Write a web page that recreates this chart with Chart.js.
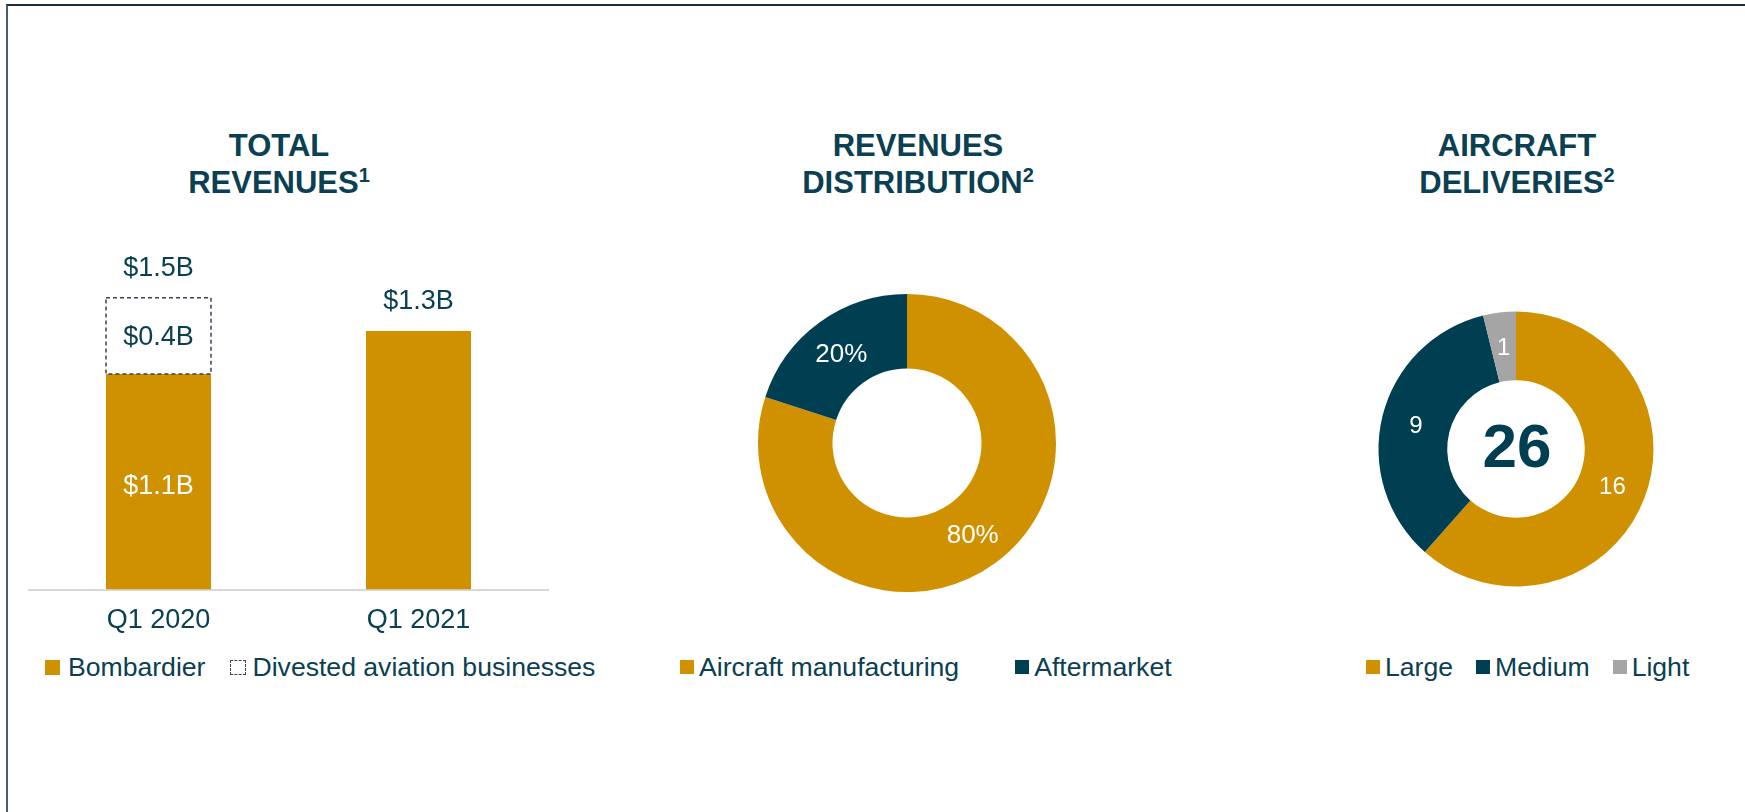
<!DOCTYPE html>
<html>
<head>
<meta charset="utf-8">
<script src="https://cdn.jsdelivr.net/npm/chart.js@4.4.1/dist/chart.umd.min.js"></script>
<style>
body { margin: 0; background: #fff; font-family: "Liberation Sans", Arial, sans-serif; color: #0a4051; }
#page { position: relative; width: 1745px; height: 812px; overflow: hidden; }
#frame { position: absolute; left: 6px; top: 4px; right: -10px; bottom: -10px; border-top: 2px solid #1c2b45; border-left: 2px solid #4d5c70; }
.title { position: absolute; top: 128px; width: 400px; margin-left: -200px; text-align: center; font-weight: bold; font-size: 31px; line-height: 36.7px; }
.title sup { font-size: 20px; line-height: 0; vertical-align: 11px; }
canvas { position: absolute; }
.legend { position: absolute; top: 654px; display: flex; font-size: 26.6px; line-height: 26px; white-space: nowrap; }
.legend .item { display: flex; align-items: center; }
.legend .box { width: 14px; height: 14px; margin-right: 5px; }
.legend .dash { box-sizing: border-box; width: 16px; height: 15px; margin-right: 6px; border: 1.5px dashed #3b4356; }
#revenueLegend .box { width: 15px; height: 15px; margin-right: 8px; }
</style>
</head>
<body>
<div id="page">
  <div id="frame"></div>

  <div class="title" style="left:279px">TOTAL<br>REVENUES<sup>1</sup></div>
  <div class="title" style="left:918px">REVENUES<br>DISTRIBUTION<sup>2</sup></div>
  <div class="title" style="left:1517px">AIRCRAFT<br>DELIVERIES<sup>2</sup></div>

  <canvas id="revenueChart" width="580" height="472" style="left:0px; top:180px"></canvas>
  <canvas id="distributionChart" width="320" height="320" style="left:747px; top:283px"></canvas>
  <canvas id="deliveriesChart" width="320" height="320" style="left:1356px; top:289px"></canvas>

  <div class="legend" id="revenueLegend" style="left:45px; gap:25px"></div>
  <div class="legend" id="distributionLegend" style="left:680px; gap:56px"></div>
  <div class="legend" id="deliveriesLegend" style="left:1366px; gap:23px"></div>
</div>

<script>
// total revenues ($B)
const categories = ['Q1 2020', 'Q1 2021'];
const bombardier = [1.1, 1.32];
const divested = [0.39, 0];
const revenueSeries = ['Bombardier', 'Divested aviation businesses'];

// revenues distribution (%)
const distributionLabels = ['Aircraft manufacturing', 'Aftermarket'];
const distributionValues = [80, 20];

// aircraft deliveries
const deliveryLabels = ['Large', 'Medium', 'Light'];
const deliveryValues = [16, 9, 1];

const gold = '#d09100';
const teal = '#003e51';
const grey = '#a5a5a5';
const textColor = '#0a4051';
const fontFamily = '"Liberation Sans", Arial, sans-serif';

Chart.defaults.font.family = fontFamily;

function money(v) {
    return '$' + v.toFixed(1) + 'B';
}

function buildLegend(id, labels, colors) {
    const el = document.getElementById(id);
    labels.forEach(function(label, i) {
        const item = document.createElement('div');
        item.className = 'item';
        const box = document.createElement('span');
        if (colors[i] === 'dashed') {
            box.className = 'dash';
        } else {
            box.className = 'box';
            box.style.background = colors[i];
        }
        item.appendChild(box);
        item.appendChild(document.createTextNode(label));
        el.appendChild(item);
    });
}

const barLabels = {
    id: 'barLabels',
    afterDatasetsDraw(chart) {
        const ctx = chart.ctx;
        const lower = chart.getDatasetMeta(0).data;
        const upper = chart.getDatasetMeta(1).data;
        ctx.save();
        upper.forEach(function(bar, i) {
            if (!divested[i]) return;
            const p = bar.getProps(['x', 'y', 'base', 'width'], true);
            ctx.setLineDash([4, 3]);
            ctx.strokeStyle = '#3b4356';
            ctx.lineWidth = 1.5;
            ctx.strokeRect(p.x - p.width / 2, p.y, p.width, p.base - p.y);
        });
        ctx.setLineDash([]);
        ctx.font = '27px ' + fontFamily;
        ctx.textAlign = 'center';
        ctx.textBaseline = 'middle';
        categories.forEach(function(c, i) {
            const b = lower[i].getProps(['x', 'y', 'base'], true);
            const d = upper[i].getProps(['x', 'y', 'base'], true);
            if (divested[i]) {
                ctx.fillStyle = '#ffffff';
                ctx.fillText(money(bombardier[i]), b.x, (b.y + b.base) / 2 + 5);
                ctx.fillStyle = textColor;
                ctx.fillText(money(divested[i]), d.x, (d.y + d.base) / 2 + 2);
            }
            ctx.fillStyle = textColor;
            ctx.fillText(money(bombardier[i] + divested[i]), b.x, Math.min(b.y, d.y) - 29);
        });
        ctx.restore();
    }
};

const arcLabels = {
    id: 'arcLabels',
    afterDatasetsDraw(chart, args, opts) {
        const ctx = chart.ctx;
        const meta = chart.getDatasetMeta(0);
        const values = chart.data.datasets[0].data;
        ctx.save();
        ctx.textAlign = 'center';
        ctx.textBaseline = 'middle';
        ctx.fillStyle = '#ffffff';
        ctx.font = opts.size + 'px ' + fontFamily;
        meta.data.forEach(function(arc, i) {
            const p = arc.tooltipPosition(true);
            ctx.fillText(values[i] + opts.suffix, p.x, p.y + 2);
        });
        if (opts.center) {
            const total = values.reduce(function(a, b) { return a + b; }, 0);
            const arc = meta.data[0];
            ctx.fillStyle = teal;
            ctx.font = 'bold 62px ' + fontFamily;
            ctx.fillText(total, arc.x + 1, arc.y + 1);
        }
        ctx.restore();
    }
};

new Chart(document.getElementById('revenueChart'), {
    type: 'bar',
    data: {
        labels: categories,
        datasets: [{
            label: revenueSeries[0],
            data: bombardier,
            backgroundColor: gold,
            borderWidth: 0,
            barPercentage: 105 / 260,
            categoryPercentage: 1
        }, {
            label: revenueSeries[1],
            data: divested,
            backgroundColor: 'rgba(255, 255, 255, 0)',
            borderWidth: 0,
            barPercentage: 105 / 260,
            categoryPercentage: 1
        }]
    },
    plugins: [barLabels],
    options: {
        responsive: false,
        animation: false,
        events: [],
        layout: { padding: { left: 28.5, right: 31.5, top: 17.7, bottom: 0 } },
        plugins: {
            legend: { display: false },
            tooltip: { enabled: false }
        },
        scales: {
            x: {
                stacked: true,
                grid: { display: false, drawTicks: false },
                border: { display: true, color: '#d9d9d9', width: 2 },
                ticks: { color: textColor, font: { size: 27 }, padding: 15 }
            },
            y: {
                stacked: true,
                display: false,
                min: 0,
                max: 2
            }
        }
    }
});

new Chart(document.getElementById('distributionChart'), {
    type: 'doughnut',
    data: {
        labels: distributionLabels,
        datasets: [{
            data: distributionValues,
            backgroundColor: [gold, teal],
            borderWidth: 0
        }]
    },
    plugins: [arcLabels],
    options: {
        responsive: false,
        animation: false,
        events: [],
        cutout: '50%',
        layout: { padding: 11 },
        plugins: {
            legend: { display: false },
            tooltip: { enabled: false },
            arcLabels: { size: 26, suffix: '%', center: false }
        }
    }
});

new Chart(document.getElementById('deliveriesChart'), {
    type: 'doughnut',
    data: {
        labels: deliveryLabels,
        datasets: [{
            data: deliveryValues,
            backgroundColor: [gold, teal, grey],
            borderWidth: 0
        }]
    },
    plugins: [arcLabels],
    options: {
        responsive: false,
        animation: false,
        events: [],
        cutout: '50%',
        layout: { padding: 22.5 },
        plugins: {
            legend: { display: false },
            tooltip: { enabled: false },
            arcLabels: { size: 24, suffix: '', center: true }
        }
    }
});

buildLegend('revenueLegend', revenueSeries, [gold, 'dashed']);
buildLegend('distributionLegend', distributionLabels, [gold, teal]);
buildLegend('deliveriesLegend', deliveryLabels, [gold, teal, grey]);
</script>
</body>
</html>
